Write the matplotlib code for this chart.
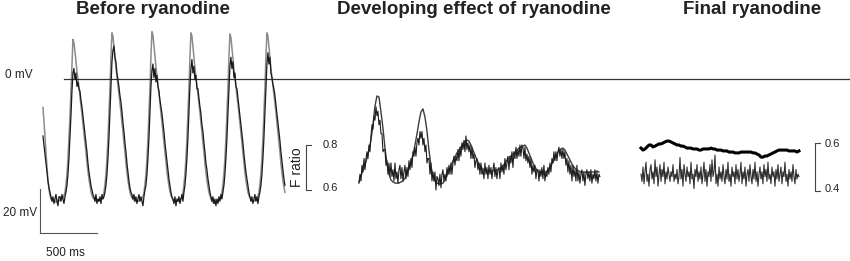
import numpy as np
import matplotlib.pyplot as plt

plt.rcParams['font.family'] = ['Liberation Sans', 'DejaVu Sans']

DT_FINE = 8.77
DT_COARSE = 17.54

# --- Before ryanodine: membrane potential (mV) and fluo-3 F ratio, every DT_FINE ---
before_mv = [
    -13, -19, -26, -33, -40, -46, -50, -53, -54.5, -55, -55.5, -55, -55.5, -56, -55.5, -55, -55.5,
    -55, -55, -54.5, -54, -53, -51.5, -48, -43, -36, -27, -17, -5, 8,
    18,
    16.5, 12.5, 8, 3.5, 0, -4, -8, -12, -16, -20.5, -24.5, -29, -33, -38, -42, -45.5, -48.5, -51,
    -53, -54, -54.5, -55, -55.5, -55.5, -55,
    -55.5, -55, -55, -54.5, -53.5, -51.5, -48, -43, -36, -27, -16, -4, 10,
    21,
    19.5, 15, 10, 5, 1, -3, -7, -11, -15, -20, -24, -29, -33, -38.5, -42.5, -46, -49, -51.5,
    -53, -54, -54.5, -55, -55.5, -55.5, -55.5,
    -55.5,
    -55.5, -55, -55, -54.5, -53.5, -51.5, -48, -43, -36, -27, -16, -4, 10,
    21.5,
    20, 15.5, 10.5, 5.5, 1.5, -2.5, -6.5, -11, -15, -19.5, -24, -28.5, -33, -38, -42, -45.5, -48.5,
    -51, -53, -54, -55, -55.5, -56, -56, -55.5,
    -55.5, -55.5, -55, -54.5, -53.5, -51.5, -48, -43, -36, -27, -16, -4, 10,
    21,
    19.5, 15, 10, 5, 1, -3, -7, -11, -15, -20, -24, -29, -33, -38.5, -42.5, -46, -49, -51.5,
    -53, -54.5, -55.5, -56, -56.5, -56.5, -56,
    -56, -55.5, -55, -54.5, -53.5, -51.5, -48, -43, -36, -27, -16, -4, 10,
    20.5,
    19, 14.5, 9.5, 4.5, 0.5, -3.5, -7.5, -11.5, -15.5, -20, -24.5, -29, -33.5, -38.5, -42.5, -46,
    -49, -51.5, -53, -54, -55, -55.5, -55.5,
    -55.5, -55, -55, -54.5, -53.5, -51.5, -48, -43, -36, -27, -16, -4, 10,
    21,
    19.5, 15, 10, 5, 1, -3, -7, -11, -15, -20, -24, -29, -33, -38.5, -42.5, -46, -49, -51.5,
]
before_f = [
    0.84, 0.80, 0.76, 0.72, 0.68, 0.64, 0.61, 0.59, 0.57, 0.55, 0.57, 0.54, 0.56, 0.58, 0.55, 0.53, 0.57,
    0.57, 0.55, 0.58, 0.56, 0.54, 0.57, 0.59, 0.62, 0.67, 0.74, 0.83, 0.93, 1.04,
    1.12,
    1.14, 1.09, 1.12, 1.06, 1.08, 1.05, 1.04, 1.00, 0.97, 0.93, 0.89, 0.85, 0.81, 0.77, 0.72, 0.68,
    0.65, 0.62, 0.60, 0.58, 0.57, 0.55, 0.58, 0.54, 0.56,
    0.55, 0.57, 0.54, 0.58, 0.56, 0.57, 0.59, 0.62, 0.67, 0.74, 0.83, 0.94, 1.06,
    1.17,
    1.22, 1.24, 1.19, 1.17, 1.12, 1.09, 1.06, 1.02, 0.99, 0.95, 0.90, 0.86, 0.81, 0.77, 0.72, 0.68,
    0.64, 0.61, 0.59, 0.58, 0.56, 0.58, 0.55, 0.57, 0.54,
    0.56,
    0.58, 0.55, 0.57, 0.55, 0.53, 0.57, 0.60, 0.62, 0.67, 0.74, 0.83, 0.94, 1.06,
    1.13,
    1.16, 1.10, 1.14, 1.08, 1.11, 1.06, 1.04, 1.00, 0.97, 0.94, 0.90, 0.86, 0.81, 0.77, 0.73, 0.69,
    0.65, 0.62, 0.59, 0.57, 0.56, 0.54, 0.57, 0.53, 0.56,
    0.55, 0.57, 0.54, 0.56, 0.58, 0.55, 0.59, 0.62, 0.67, 0.74, 0.83, 0.94, 1.06,
    1.14,
    1.18, 1.12, 1.15, 1.09, 1.11, 1.05, 1.05, 1.01, 0.97, 0.94, 0.89, 0.86, 0.81, 0.77, 0.72, 0.69,
    0.65, 0.62, 0.59, 0.57, 0.55, 0.57, 0.54, 0.56, 0.53,
    0.56, 0.54, 0.57, 0.55, 0.58, 0.56, 0.59, 0.62, 0.67, 0.74, 0.83, 0.94, 1.06,
    1.15,
    1.19, 1.14, 1.17, 1.10, 1.12, 1.06, 1.05, 1.01, 0.97, 0.93, 0.89, 0.85, 0.81, 0.76, 0.72, 0.68,
    0.65, 0.62, 0.59, 0.57, 0.55, 0.57, 0.54,
    0.56, 0.58, 0.55, 0.57, 0.54, 0.57, 0.59, 0.62, 0.67, 0.74, 0.83, 0.94, 1.06,
    1.16,
    1.21, 1.16, 1.19, 1.12, 1.10, 1.07, 1.05, 1.02, 0.98, 0.94, 0.90, 0.86, 0.82, 0.77, 0.73, 0.69,
    0.65, 0.62,
]

# --- Developing effect of ryanodine: mV every DT_COARSE, F ratio every DT_FINE ---
developing_mv = [
    -46.8, -44.1, -41.4, -39.1, -35.9, -32.3, -27.7, -20.9, -12.3, -7.7,
    -8.2, -15.0, -22.3, -31.4, -38.2, -43.2, -45.9, -46.8, -47.3, -47.3,
    -47.3, -46.8, -46.4, -45.0, -43.2, -40.5, -37.7, -34.5, -30.0, -25.0,
    -19.5, -15.0, -13.6, -17.3, -23.6, -32.3, -39.5, -44.1, -46.4, -47.3,
    -47.7, -47.7, -47.3, -45.9, -44.1, -41.8, -39.5, -37.3, -35.5, -33.6,
    -32.3, -30.9, -29.5, -28.2, -27.7, -28.2, -30.0, -32.3, -34.5, -36.8,
    -38.6, -40.0, -40.9, -41.4, -41.8, -41.8, -41.8, -41.8, -41.4, -41.4,
    -40.9, -40.5, -39.5, -38.2, -36.8, -35.9, -35.0, -34.1, -33.2, -32.3,
    -31.4, -30.9, -30.5, -30.0, -31.4, -33.6, -35.9, -38.2, -40.0, -41.4,
    -42.3, -42.3, -42.3, -42.3, -41.8, -40.9, -39.5, -37.7, -35.9, -34.1,
    -32.7, -31.8, -31.4, -32.3, -34.1, -35.9, -37.7, -39.5, -40.5, -41.4,
    -41.8, -42.3, -42.3, -42.3, -42.3, -42.3, -42.3, -42.3, -42.3, -41.8,
    -42.3,
]
developing_f = [
    0.63, 0.67, 0.64, 0.71, 0.68, 0.74, 0.69, 0.74, 0.77, 0.74,
    0.80, 0.77, 0.84, 0.89, 0.87, 0.93, 0.91, 0.97, 0.93, 0.95,
    0.89, 0.91, 0.85, 0.85, 0.77, 0.78, 0.78, 0.71, 0.73, 0.67,
    0.72, 0.66, 0.72, 0.66, 0.69, 0.64, 0.72, 0.65, 0.68, 0.63,
    0.69, 0.71, 0.65, 0.70, 0.64, 0.68, 0.71, 0.65, 0.70, 0.66,
    0.73, 0.69, 0.74, 0.70, 0.77, 0.75, 0.79, 0.75, 0.81, 0.83,
    0.80, 0.86, 0.83, 0.86, 0.80, 0.83, 0.77, 0.80, 0.72, 0.74,
    0.74, 0.67, 0.72, 0.64, 0.68, 0.64, 0.68, 0.60, 0.66, 0.65,
    0.62, 0.67, 0.61, 0.67, 0.69, 0.64, 0.67, 0.64, 0.70, 0.67,
    0.71, 0.67, 0.72, 0.67, 0.72, 0.75, 0.71, 0.75, 0.73, 0.78,
    0.73, 0.79, 0.75, 0.81, 0.78, 0.82, 0.77, 0.84, 0.78, 0.81,
    0.77, 0.80, 0.74, 0.79, 0.74, 0.76, 0.70, 0.73, 0.74, 0.69,
    0.72, 0.67, 0.72, 0.67, 0.69, 0.65, 0.72, 0.67, 0.70, 0.65,
    0.71, 0.67, 0.70, 0.65, 0.69, 0.72, 0.66, 0.70, 0.65, 0.69,
    0.70, 0.65, 0.72, 0.68, 0.71, 0.67, 0.74, 0.69, 0.72, 0.75,
    0.69, 0.75, 0.72, 0.77, 0.70, 0.77, 0.74, 0.79, 0.74, 0.78,
    0.75, 0.80, 0.75, 0.80, 0.79, 0.74, 0.79, 0.73, 0.76, 0.72,
    0.75, 0.70, 0.74, 0.67, 0.71, 0.68, 0.71, 0.65, 0.69, 0.69,
    0.64, 0.69, 0.66, 0.70, 0.65, 0.71, 0.64, 0.68, 0.66, 0.70,
    0.67, 0.72, 0.68, 0.74, 0.72, 0.77, 0.73, 0.77, 0.73, 0.77,
    0.79, 0.75, 0.78, 0.74, 0.78, 0.74, 0.77, 0.71, 0.74, 0.68,
    0.73, 0.67, 0.71, 0.64, 0.71, 0.66, 0.69, 0.64, 0.71, 0.64,
    0.68, 0.63, 0.67, 0.69, 0.64, 0.68, 0.62, 0.67, 0.69, 0.65,
    0.68, 0.64, 0.69, 0.63, 0.67, 0.65, 0.69, 0.64, 0.68, 0.63,
    0.67, 0.66,
]

# --- Final ryanodine: mV every DT_COARSE, F ratio every DT_FINE ---
final_mv = [
    -31.4, -32.3, -31.8, -30.9, -30.0, -30.0, -30.9, -30.5, -30.0, -29.5,
    -29.5, -29.1, -28.6, -28.2, -28.2, -28.6, -29.1, -29.5, -30.0, -30.0,
    -30.5, -30.5, -30.9, -31.4, -31.4, -31.4, -31.8, -31.8, -31.8, -32.3,
    -32.3, -31.8, -31.8, -31.8, -31.8, -31.4, -31.8, -31.8, -32.3, -32.3,
    -32.3, -32.7, -32.7, -32.7, -33.2, -33.2, -33.2, -33.6, -33.6, -33.6,
    -33.2, -33.2, -33.2, -33.2, -33.2, -33.2, -33.6, -33.6, -34.1, -34.5,
    -35.5, -35.5, -35.0, -35.0, -34.5, -34.1, -33.6, -33.2, -32.7, -32.3,
    -32.3, -32.3, -32.3, -32.3, -32.7, -32.7, -32.7, -32.7, -33.2, -32.7,
]
final_f = [
    0.47, 0.44, 0.50, 0.43, 0.48, 0.52, 0.44, 0.47, 0.42, 0.49,
    0.51, 0.45, 0.48, 0.43, 0.53, 0.46, 0.50, 0.42, 0.47, 0.51,
    0.44, 0.49, 0.46, 0.52, 0.43, 0.48, 0.45, 0.50, 0.47, 0.44,
    0.48, 0.46, 0.51, 0.44, 0.47, 0.45, 0.49, 0.43, 0.46, 0.54,
    0.45, 0.49, 0.42, 0.51, 0.47, 0.44, 0.50, 0.46, 0.48, 0.43,
    0.52, 0.45, 0.47, 0.41, 0.49, 0.46, 0.51, 0.44, 0.48, 0.45,
    0.50, 0.43, 0.47, 0.52, 0.44, 0.49, 0.42, 0.48, 0.46, 0.51,
    0.44, 0.53, 0.46, 0.48, 0.55, 0.43, 0.47, 0.42, 0.50, 0.45,
    0.48, 0.44, 0.51, 0.46, 0.43, 0.49, 0.45, 0.52, 0.44, 0.47,
    0.42, 0.50, 0.46, 0.48, 0.43, 0.51, 0.45, 0.49, 0.44, 0.47,
    0.52, 0.43, 0.48, 0.45, 0.50, 0.42, 0.47, 0.49, 0.44, 0.51,
    0.46, 0.43, 0.49, 0.45, 0.52, 0.44, 0.48, 0.42, 0.47, 0.50,
    0.45, 0.48, 0.43, 0.51, 0.46, 0.49, 0.44, 0.52, 0.45, 0.47,
    0.43, 0.50, 0.46, 0.48, 0.42, 0.49, 0.45, 0.51, 0.44, 0.47,
    0.50, 0.43, 0.48, 0.46, 0.52, 0.44, 0.47, 0.42, 0.49, 0.45,
    0.48, 0.44, 0.51, 0.46, 0.43, 0.49, 0.45, 0.47, 0.46,
]

panel_titles = ['Before ryanodine', 'Developing effect of ryanodine', 'Final ryanodine']
panel_start_ms = [26, 2798, 5272]   # time at which each recording starts

# scale bars
SCALE_MS = 500
SCALE_MV = 20
SCALE_BAR_MV = -70


def main():
    W, H = 850, 261
    px_per_ms = 57 / 500
    px_per_mv = 44 / 20
    x0_px, zero_mv_px = 40, 79

    fig = plt.figure(figsize=(W / 100, H / 100), dpi=100)
    ax = fig.add_axes([0, 0, 1, 1])
    ax.set_xlim(-x0_px / px_per_ms, (W - x0_px) / px_per_ms)
    ax.set_ylim((zero_mv_px - H) / px_per_mv, zero_mv_px / px_per_mv)
    ax.set_axis_off()

    # F ratio axes: one for the first two panels, one for the last
    axf = ax.twinx()
    axf.set_ylim(0.8 - (H - 145) / 225, 0.8 + 145 / 225)
    axf.set_axis_off()
    axf3 = ax.twinx()
    axf3.set_ylim(0.6 - (H - 143) / 240, 0.6 + 143 / 240)
    axf3.set_axis_off()

    def times(start, vals, dt):
        return start + np.arange(len(vals)) * dt

    t1, t2, t3 = panel_start_ms
    ax.plot(times(t1, before_mv, DT_FINE), before_mv, color='#8c8c8c', lw=1.1, zorder=2)
    axf.plot(times(t1, before_f, DT_FINE), before_f, color='#1a1a1a', lw=0.9, zorder=3)

    axf.plot(times(t2, developing_f, DT_FINE), developing_f, color='#1e1e1e', lw=0.8)
    ax.plot(times(t2, developing_mv, DT_COARSE), developing_mv, color='#3c3c3c', lw=1.0)

    ax.plot(times(t3, final_mv, DT_COARSE), final_mv, color='black', lw=2.2)
    axf3.plot(times(t3, final_f, DT_FINE), final_f, color='#2e2e2e', lw=0.8)

    # 0 mV reference line
    ax.axhline(0, xmin=64 / W, xmax=1, color='#333333', lw=0.9)

    # time / voltage scale bars
    ax.plot([0, 0], [SCALE_BAR_MV, SCALE_BAR_MV + SCALE_MV], color='#555555', lw=0.8)
    ax.plot([0, SCALE_MS], [SCALE_BAR_MV, SCALE_BAR_MV], color='#555555', lw=0.8)

    # F ratio brackets
    tick = 5 / px_per_ms
    xb2 = (306 - x0_px) / px_per_ms
    axf.plot([xb2 + tick, xb2, xb2, xb2 + tick], [0.8, 0.8, 0.6, 0.6], color='#444444', lw=0.8)
    xb3 = (815 - x0_px) / px_per_ms
    axf3.plot([xb3 + tick, xb3, xb3, xb3 + tick], [0.6, 0.6, 0.4, 0.4], color='#444444', lw=0.8)

    def label(x, y, s, **kw):
        fig.text(x / W, 1 - y / H, s, va='center', color='#222222', **kw)

    label(5, 75, '0 mV', fontsize=8.5)
    label(3, 213, '20 mV', fontsize=8.5)
    label(46, 253, '500 ms', fontsize=8.5)
    label(323, 145, '0.8', fontsize=8)
    label(323, 188, '0.6', fontsize=8)
    label(297, 167, 'F ratio', fontsize=10, rotation=90, ha='center')
    label(825, 144, '0.6', fontsize=8)
    label(825, 189, '0.4', fontsize=8)

    for x, title in zip([153, 474, 752], panel_titles):
        label(x, 10, title, fontsize=13.5, fontweight='bold', ha='center', )

    plt.savefig('out.png', dpi=100)


if __name__ == '__main__':
    main()
